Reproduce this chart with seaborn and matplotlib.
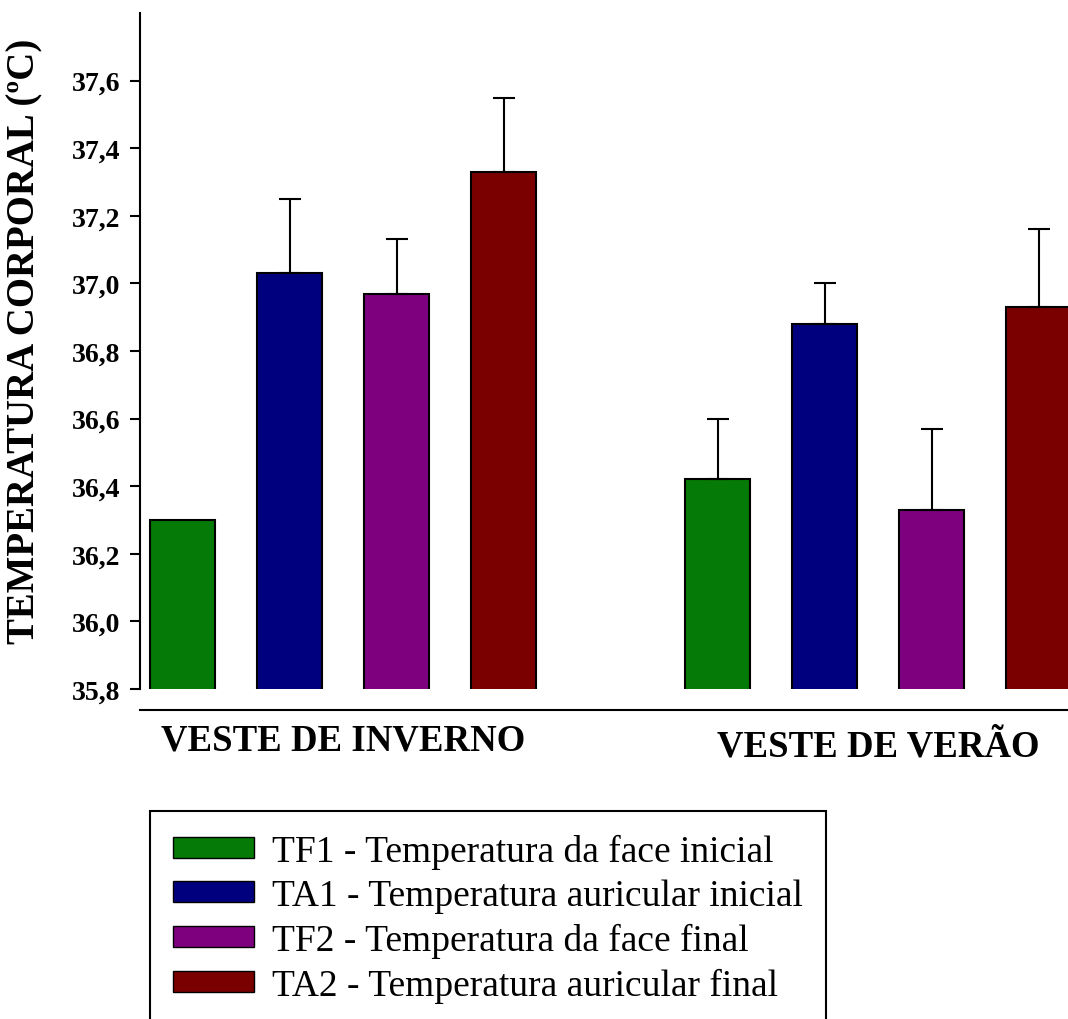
import numpy as np
import pandas as pd
import matplotlib
matplotlib.use("Agg")
import matplotlib.pyplot as plt
import matplotlib.transforms as mtransforms
import seaborn as sns

# dados
grupos = ["VESTE DE INVERNO", "VESTE DE VERÃO"]
series = [
    "TF1 - Temperatura da face inicial",
    "TA1 - Temperatura auricular inicial",
    "TF2 - Temperatura da face final",
    "TA2 - Temperatura auricular final",
]
cores = ["#067A06", "#00007E", "#7E007E", "#7A0000"]

tf1 = [36.30, 36.42]
ta1 = [37.03, 36.88]
tf2 = [36.97, 36.33]
ta2 = [37.33, 36.93]

erro_tf1 = [np.nan, 0.18]
erro_ta1 = [0.22, 0.12]
erro_tf2 = [0.16, 0.24]
erro_ta2 = [0.22, 0.23]

yticks = [35.8, 36.0, 36.2, 36.4, 36.6, 36.8, 37.0, 37.2, 37.4, 37.6]
ytick_labels = ["35,8", "36,0", "36,2", "36,4", "36,6", "36,8", "37,0", "37,2", "37,4", "37,6"]

medias = [tf1, ta1, tf2, ta2]
erros = [erro_tf1, erro_ta1, erro_tf2, erro_ta2]

df = pd.DataFrame({
    "grupo": grupos * len(series),
    "serie": [s for s in series for _ in grupos],
    "valor": [v for m in medias for v in m],
})

sns.set_theme(style="ticks")
plt.rcParams["font.family"] = ["Liberation Serif", "DejaVu Serif"]
plt.rcParams["font.weight"] = "bold"
plt.rcParams["axes.labelweight"] = "bold"
for k in ["text.color", "axes.labelcolor", "xtick.color", "ytick.color", "axes.edgecolor"]:
    plt.rcParams[k] = "black"
plt.rcParams["xtick.labelsize"] = 26.5
plt.rcParams["ytick.labelsize"] = 20

fig = plt.figure(figsize=(10.68, 10.2), dpi=100)
ax = fig.add_axes([140 / 1068, 1 - 690 / 1020, 979 / 1068, 676 / 1020])

sns.barplot(data=df, x="grupo", y="valor", hue="serie", order=grupos,
            hue_order=series, palette=cores, edgecolor="black", linewidth=1.5,
            saturation=1, gap=0.39, errorbar=None, ax=ax)

# barras de erro (so para cima)
for cont, err in zip(ax.containers, erros):
    for barra, e in zip(cont, err):
        if np.isnan(e):
            continue
        x = barra.get_x() + barra.get_width() / 2
        topo = barra.get_height()
        ax.errorbar(x, topo, yerr=[[0], [e]], fmt="none", ecolor="black",
                    elinewidth=1.5, capsize=8, capthick=1.5, zorder=1)

handles, labels = ax.get_legend_handles_labels()
ax.get_legend().remove()

ax.set_ylim(35.8, 37.8)
ax.set_xlim(-0.38, 1.45)
ax.set_yticks(yticks, ytick_labels)
ax.set_xticks([0, 1], grupos)
ax.tick_params(axis="x", length=0, pad=9, labelsize=26.5)
ax.tick_params(axis="y", direction="out", length=7, width=1.5, pad=7, labelsize=20)
ax.set_xlabel("")
ax.set_ylabel("TEMPERATURA CORPORAL (ºC)", fontsize=28, fontweight="bold")
ax.yaxis.set_label_coords(-0.099, 0.516)

sns.despine(ax=ax)
ax.spines["bottom"].set_position(("outward", 15))
ax.spines["left"].set_linewidth(1.5)
ax.spines["bottom"].set_linewidth(1.5)

# o rotulo de verao fica um pouco mais baixo no original
lbl = ax.xaxis.get_major_ticks()[1].label1
lbl.set_transform(lbl.get_transform() + mtransforms.Affine2D().translate(0, -6))

for h in handles:
    h.set_edgecolor("black")
    h.set_linewidth(1.0)

leg = fig.legend(handles, labels, loc="upper left",
                 bbox_to_anchor=(150 / 1068, 1 - 812 / 1020),
                 prop={"family": "Liberation Serif", "weight": "normal", "size": 27},
                 frameon=True, fancybox=False, framealpha=1,
                 edgecolor="black", borderaxespad=0, handlelength=2.16,
                 handleheight=0.48, handletextpad=0.5, labelspacing=0.26,
                 borderpad=0.6)
leg.get_frame().set_linewidth(1.5)

fig.savefig("out.png", dpi=100)
